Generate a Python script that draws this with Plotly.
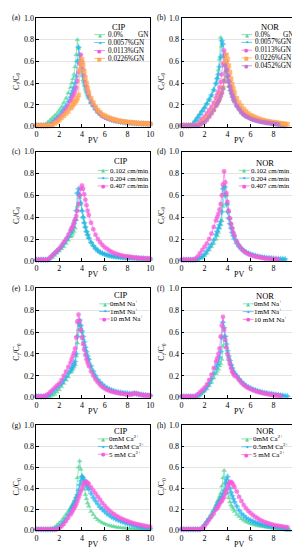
import plotly.graph_objects as go

N = None
PV = [0.0, 0.2, 0.4, 0.6, 0.8, 1.0, 1.2, 1.4, 1.6, 1.8, 2.0, 2.2, 2.4, 2.6, 2.8, 3.0,
      3.1, 3.2, 3.3, 3.4, 3.5, 3.6, 3.7, 3.8, 3.9, 4.0, 4.1, 4.2, 4.3, 4.4, 4.5, 4.6,
      4.8, 5.0, 5.2, 5.4, 5.6, 5.8, 6.0, 6.2, 6.4,
      6.6, 6.8, 7.0, 7.2, 7.4, 7.6, 7.8, 8.0, 8.2,
      8.4, 8.6, 8.8, 9.0, 9.2, 9.4, 9.6, 9.8, 10.0]

# ---------------- (a) CIP, GN ----------------
A_GN_00 = ([0.01,0.01,0.01,0.01,0.02,0.04,0.06,0.08,0.10,0.12,0.15,0.18,0.22,0.26,0.31,0.36] +
           [0.40,0.44,0.48,0.55,0.66,0.80,0.72,0.62,0.54,0.48,0.43,0.39,0.35,0.32,0.29,0.26] +
           [0.22,0.19,0.16,0.13,0.11,0.095,0.085,0.075,0.068,
            0.062,0.057,0.052,0.048,0.045,0.042,0.039,0.037,0.035,
            0.033,0.031,0.029,0.028,0.027,0.026,0.025,0.024,0.023])
A_GN_0057 = ([0.01,0.01,0.01,0.01,0.01,0.01,0.02,0.04,0.06,0.08,0.10,0.13,0.16,0.19,0.23,0.27] +
             [0.30,0.33,0.36,0.40,0.46,0.60,0.73,0.66,0.58,0.52,0.46,0.41,0.37,0.33,0.30,0.27] +
             [0.22,0.19,0.16,0.135,0.115,0.10,0.088,0.078,0.07,
              0.063,0.057,0.052,0.048,0.044,0.041,0.038,0.036,0.034,
              0.032,0.030,0.029,0.028,0.027,0.026,0.025,0.024,0.023])
A_GN_0113 = ([0.01,0.01,0.01,0.01,0.01,0.01,0.01,0.02,0.04,0.06,0.08,0.10,0.13,0.16,0.19,0.23] +
             [0.25,0.28,0.30,0.33,0.36,0.42,0.50,0.58,0.66,0.60,0.53,0.47,0.41,0.37,0.33,0.29] +
             [0.24,0.20,0.17,0.14,0.12,0.10,0.09,0.08,0.072,
              0.065,0.059,0.054,0.05,0.046,0.043,0.04,0.038,0.036,
              0.034,0.032,0.031,0.03,0.029,0.028,0.027,0.026,0.025])
A_GN_0226 = ([0.01,0.01,0.01,0.01,0.01,0.01,0.01,0.01,0.03,0.04,0.06,0.08,0.10,0.12,0.14,0.17] +
             [0.18,0.20,0.21,0.23,0.24,0.26,0.29,0.52,0.58,0.62,0.57,0.51,0.45,0.40,0.35,0.31] +
             [0.26,0.22,0.18,0.15,0.13,0.11,0.10,0.09,0.08,
              0.072,0.066,0.06,0.055,0.05,0.047,0.044,0.041,0.039,
              0.037,0.035,0.033,0.031,0.03,0.029,0.028,0.027,0.026])

# ---------------- (b) NOR, GN ----------------
B_GN_00 = ([0.01,0.01,0.01,0.01,0.01,0.03,0.06,0.09,0.12,0.15,0.18,0.21,0.24,0.28,0.33,0.39] +
           [0.45,0.52,0.62,0.82,0.74,0.64,0.56,0.50,0.45,0.41,0.37,0.34,0.31,0.28,0.25,0.23] +
           [0.19,0.16,0.13,0.11,0.095,0.085,0.075,0.066,0.06,
            0.055,0.05,0.045,0.041,0.038,0.035,0.032,0.029,0.025,
            0.02,0.01,0.0,N,N,N,N,N,N])
B_GN_0057 = ([0.01,0.01,0.01,0.01,0.01,0.02,0.05,0.08,0.11,0.14,0.17,0.21,0.25,0.29,0.34,0.40] +
             [0.44,0.48,0.55,0.64,0.79,0.76,0.66,0.58,0.51,0.46,0.41,0.37,0.33,0.30,0.27,0.24] +
             [0.20,0.17,0.14,0.12,0.10,0.09,0.08,0.07,0.063,
              0.057,0.052,0.047,0.043,0.04,0.037,0.034,0.031,0.028,
              0.025,0.02,0.015,0.01,N,N,N,N,N])
B_GN_0113 = ([0.01,0.01,0.01,0.01,0.01,0.01,0.01,0.02,0.05,0.07,0.09,0.12,0.15,0.18,0.22,0.26] +
             [0.29,0.32,0.36,0.41,0.48,0.58,0.70,0.66,0.60,0.53,0.47,0.41,0.36,0.32,0.28,0.25] +
             [0.20,0.17,0.14,0.12,0.10,0.09,0.08,0.07,0.063,
              0.057,0.052,0.047,0.043,0.04,0.037,0.034,0.031,0.028,
              0.025,0.022,0.02,0.018,N,N,N,N,N])
B_GN_0226 = ([0.01,0.01,0.01,0.01,0.01,0.01,0.01,0.01,0.02,0.04,0.06,0.08,0.10,0.13,0.16,0.20] +
             [0.22,0.24,0.27,0.29,0.32,0.36,0.42,0.60,0.66,0.62,0.56,0.50,0.44,0.39,0.35,0.31] +
             [0.26,0.22,0.19,0.16,0.14,0.12,0.105,0.095,0.085,
              0.076,0.068,0.061,0.055,0.05,0.046,0.042,0.039,0.036,
              0.033,0.03,0.027,0.024,0.022,N,N,N,N])
B_GN_0452 = ([0.01,0.01,0.01,0.01,0.01,0.01,0.01,0.01,0.02,0.03,0.04,0.06,0.09,0.12,0.15,0.19] +
             [0.21,0.23,0.25,0.28,0.31,0.35,0.42,0.56,0.52,0.47,0.42,0.37,0.33,0.29,0.26,0.23] +
             [0.19,0.16,0.13,0.11,0.095,0.083,0.073,0.065,0.058,
              0.052,0.047,0.043,0.039,0.035,0.032,0.029,0.026,0.023,
              0.02,N,N,N,N,N,N,N,N])

# ---------------- (c) CIP, flow rate ----------------
C_F_102 = ([0.01,0.01,0.01,0.01,0.01,0.01,0.02,0.03,0.05,0.07,0.09,0.11,0.13,0.16,0.19,0.22] +
           [0.23,0.25,0.27,0.30,0.38,0.50,0.62,0.58,0.52,0.46,0.40,0.35,0.31,0.27,0.24,0.21] +
           [0.17,0.14,0.11,0.09,0.075,0.065,0.057,0.05,0.044,
            0.039,0.035,0.032,0.029,0.027,0.025,0.023,0.021,0.02,
            0.019,0.018,0.017,0.016,0.015,0.014,0.013,0.012,0.011])
C_F_204 = ([0.01,0.01,0.01,0.01,0.01,0.01,0.03,0.05,0.07,0.09,0.11,0.13,0.16,0.19,0.22,0.26] +
           [0.28,0.31,0.34,0.37,0.46,0.62,0.66,0.60,0.53,0.46,0.40,0.35,0.31,0.27,0.24,0.21] +
           [0.17,0.14,0.115,0.095,0.08,0.07,0.062,0.055,0.05,
            0.046,0.042,0.039,0.036,0.034,0.032,0.03,0.029,0.028,
            0.027,0.026,0.025,0.024,0.023,0.022,0.021,0.02,0.02])
C_F_407 = ([0.01,0.01,0.01,0.01,0.01,0.01,0.03,0.05,0.07,0.09,0.11,0.14,0.17,0.20,0.24,0.28] +
           [0.30,0.32,0.35,0.38,0.41,0.46,0.52,0.60,0.66,0.69,0.66,0.61,0.56,0.51,0.46,0.42] +
           [0.35,0.29,0.24,0.20,0.17,0.145,0.125,0.11,0.095,
            0.083,0.073,0.065,0.058,0.052,0.047,0.043,0.04,0.037,
            0.034,0.031,0.029,0.027,0.025,0.023,0.022,0.021,0.02])

# ---------------- (d) NOR, flow rate ----------------
D_F_102 = ([0.01,0.01,0.01,0.01,0.01,0.01,0.01,0.01,0.02,0.03,0.05,0.07,0.10,0.13,0.16,0.20] +
           [0.23,0.26,0.30,0.33,0.37,0.50,0.62,0.68,0.60,0.52,0.45,0.39,0.34,0.30,0.26,0.23] +
           [0.18,0.15,0.12,0.10,0.085,0.072,0.062,0.054,0.047,
            0.041,0.036,0.032,0.028,0.025,0.022,0.019,0.016,0.013,
            0.01,0.008,0.006,0.005,N,N,N,N,N])
D_F_204 = ([0.01,0.01,0.01,0.01,0.01,0.01,0.01,0.02,0.03,0.04,0.06,0.09,0.12,0.15,0.19,0.24] +
           [0.27,0.30,0.33,0.36,0.45,0.66,0.68,0.60,0.52,0.45,0.39,0.34,0.30,0.26,0.23,0.20] +
           [0.16,0.13,0.11,0.09,0.078,0.068,0.06,0.053,0.047,
            0.042,0.038,0.034,0.031,0.028,0.026,0.024,0.022,0.02,
            0.019,0.018,0.017,0.016,N,N,N,N,N])
D_F_407 = ([0.01,0.01,0.01,0.01,0.01,0.01,0.02,0.04,0.07,0.10,0.13,0.16,0.20,0.25,0.31,0.37] +
           [0.40,0.43,0.47,0.52,0.60,0.70,0.82,0.72,0.62,0.54,0.46,0.39,0.34,0.30,0.26,0.23] +
           [0.18,0.14,0.11,0.09,0.075,0.063,0.054,0.047,0.041,
            0.036,0.032,0.028,0.025,0.022,0.02,0.018,0.016,0.014,
            0.012,N,N,N,N,N,N,N,N])

# ---------------- (e) CIP, Na+ ----------------
E_NA_0 = ([0.01,0.01,0.01,0.01,0.01,0.01,0.01,0.02,0.03,0.05,0.07,0.10,0.13,0.16,0.19,0.23] +
          [0.24,0.26,0.28,0.30,0.38,0.50,0.62,0.66,0.64,0.60,0.54,0.49,0.44,0.40,0.36,0.33] +
          [0.27,0.22,0.18,0.15,0.125,0.105,0.09,0.078,0.068,
           0.06,0.054,0.049,0.045,0.042,0.039,0.037,0.035,0.034,
           0.033,0.035,0.032,0.029,0.026,0.024,0.022,0.02,0.019])
E_NA_1 = ([0.01,0.01,0.01,0.01,0.01,0.02,0.03,0.05,0.07,0.09,0.11,0.13,0.16,0.19,0.22,0.25] +
          [0.27,0.29,0.31,0.33,0.40,0.56,0.68,0.71,0.66,0.61,0.56,0.51,0.46,0.42,0.38,0.35] +
          [0.29,0.24,0.20,0.165,0.14,0.12,0.10,0.088,0.077,
           0.068,0.061,0.055,0.05,0.046,0.043,0.04,0.038,0.036,
           0.035,0.038,0.035,0.031,0.028,0.025,0.023,0.021,0.02])
E_NA_10 = ([0.01,0.01,0.01,0.01,0.02,0.03,0.05,0.07,0.09,0.11,0.13,0.16,0.20,0.24,0.28,0.32] +
           [0.35,0.38,0.41,0.45,0.55,0.70,0.76,0.70,0.62,0.55,0.49,0.44,0.39,0.35,0.32,0.29] +
           [0.24,0.20,0.165,0.14,0.115,0.097,0.083,0.072,0.063,
            0.056,0.05,0.045,0.041,0.037,0.034,0.031,0.029,0.028,
            0.03,0.04,0.038,0.03,0.025,0.022,0.02,0.019,0.018])

# ---------------- (f) NOR, Na+ ----------------
F_NA_0 = ([0.01,0.01,0.01,0.01,0.01,0.01,0.01,0.01,0.02,0.04,0.06,0.08,0.11,0.14,0.18,0.22] +
          [0.24,0.26,0.29,0.31,0.35,0.47,0.56,0.52,0.46,0.41,0.37,0.33,0.30,0.27,0.24,0.22] +
          [0.20,0.17,0.145,0.125,0.11,0.095,0.085,0.075,0.067,
           0.06,0.054,0.049,0.044,0.04,0.036,0.033,0.03,0.027,
           0.024,0.021,0.018,N,N,N,N,N,N])
F_NA_1 = ([0.01,0.01,0.01,0.01,0.01,0.01,0.01,0.02,0.03,0.05,0.07,0.10,0.13,0.17,0.22,0.27] +
          [0.30,0.33,0.37,0.42,0.55,0.69,0.64,0.56,0.49,0.43,0.38,0.34,0.30,0.27,0.24,0.22] +
          [0.20,0.17,0.145,0.125,0.11,0.095,0.085,0.075,0.067,
           0.06,0.054,0.049,0.044,0.04,0.036,0.033,0.03,0.027,
           0.024,0.021,0.018,0.015,0.012,N,N,N,N])
F_NA_10 = ([0.01,0.01,0.01,0.01,0.01,0.01,0.01,0.03,0.05,0.07,0.09,0.12,0.16,0.21,0.27,0.33] +
           [0.36,0.40,0.45,0.56,0.66,0.74,0.62,0.53,0.46,0.40,0.35,0.31,0.27,0.24,0.22,0.20] +
           [0.19,0.16,0.135,0.115,0.10,0.088,0.078,0.069,0.061,
            0.054,0.048,0.043,0.038,0.034,0.03,0.027,0.024,0.021,
            0.018,0.015,N,N,N,N,N,N,N])

# ---------------- (g) CIP, Ca2+ ----------------
G_CA_0 = ([0.01,0.01,0.01,0.01,0.01,0.01,0.01,0.02,0.03,0.05,0.07,0.09,0.12,0.15,0.18,0.21] +
          [0.23,0.25,0.27,0.29,0.32,0.50,0.60,0.66,0.58,0.52,0.45,0.39,0.34,0.30,0.26,0.23] +
          [0.18,0.15,0.12,0.10,0.085,0.072,0.062,0.054,0.047,
           0.041,0.036,0.032,0.029,0.026,0.023,0.021,0.019,0.017,
           0.016,0.015,0.014,0.013,0.012,0.011,0.01,0.01,0.01])
G_CA_05 = ([0.01,0.01,0.01,0.01,0.01,0.01,0.01,0.01,0.01,0.02,0.03,0.05,0.08,0.11,0.15,0.19] +
           [0.21,0.23,0.25,0.28,0.31,0.34,0.38,0.43,0.47,0.51,0.50,0.48,0.45,0.43,0.41,0.39] +
           [0.35,0.31,0.28,0.25,0.22,0.20,0.18,0.16,0.145,
            0.13,0.118,0.107,0.097,0.088,0.08,0.072,0.065,0.058,
            0.052,0.046,0.04,0.035,0.03,0.026,0.022,0.019,0.017])
G_CA_5 = ([0.01,0.01,0.01,0.01,0.01,0.01,0.01,0.01,0.01,0.01,0.02,0.04,0.06,0.09,0.12,0.15] +
          [0.17,0.19,0.21,0.23,0.25,0.28,0.31,0.34,0.37,0.40,0.43,0.45,0.46,0.46,0.45,0.44] +
          [0.41,0.38,0.35,0.32,0.29,0.26,0.235,0.21,0.19,
           0.17,0.155,0.14,0.127,0.115,0.105,0.096,0.088,0.08,
           0.073,0.066,0.06,0.055,0.05,0.046,0.042,0.038,0.035])

# ---------------- (h) NOR, Ca2+ ----------------
H_CA_0 = ([0.01,0.01,0.01,0.01,0.01,0.01,0.01,0.01,0.01,0.03,0.06,0.09,0.12,0.16,0.20,0.24] +
          [0.27,0.29,0.32,0.35,0.42,0.50,0.57,0.46,0.40,0.35,0.31,0.27,0.24,0.22,0.20,0.18] +
          [0.15,0.13,0.11,0.095,0.082,0.072,0.064,0.057,0.051,
           0.046,0.041,0.037,0.033,0.03,0.027,0.024,0.021,0.018,
           0.015,0.012,0.009,0.006,0.003,0.0,N,N,N])
H_CA_05 = ([0.01,0.01,0.01,0.01,0.01,0.01,0.01,0.01,0.01,0.02,0.05,0.08,0.11,0.14,0.18,0.22] +
           [0.24,0.26,0.28,0.30,0.32,0.35,0.38,0.44,0.48,0.51,0.45,0.40,0.36,0.33,0.30,0.27] +
           [0.23,0.19,0.16,0.14,0.12,0.105,0.095,0.085,0.076,
            0.068,0.061,0.055,0.05,0.045,0.041,0.037,0.034,0.031,
            0.028,0.025,0.022,0.019,0.016,N,N,N,N])
H_CA_5 = ([0.01,0.01,0.01,0.01,0.01,0.01,0.01,0.01,0.01,0.02,0.04,0.07,0.10,0.13,0.16,0.20] +
          [0.21,0.23,0.25,0.27,0.28,0.30,0.32,0.35,0.38,0.41,0.44,0.46,0.46,0.45,0.43,0.41] +
          [0.37,0.32,0.28,0.24,0.21,0.185,0.165,0.145,0.13,
           0.115,0.102,0.09,0.08,0.072,0.065,0.058,0.052,0.047,
           0.043,0.039,0.036,0.033,0.03,N,N,N,N])

# ---------------- labels ----------------
PANEL_LABELS = ["(a)", "(b)", "(c)", "(d)", "(e)", "(f)", "(g)", "(h)"]
LEGEND_TITLES = ["CIP", "NOR", "CIP", "NOR", "CIP", "NOR", "CIP", "NOR"]
X_TICKS = [0, 2, 4, 6, 8, 10]
Y_TICKS = [0.0, 0.2, 0.4, 0.6, 0.8, 1.0]

GN_NAMES = [("0.0%", "GN"), ("0.0057%GN", None), ("0.0113%GN", None), ("0.0226%GN", None), ("0.0452%GN", None)]
FLOW_NAMES = [("0.102 cm/min", None), ("0.204 cm/min", None), ("0.407 cm/min", None)]
NA_NAMES = [("0mM Na<sup>+</sup>", None), ("1mM Na<sup>+</sup>", None), ("10 mM Na<sup>+</sup>", None)]
CA_NAMES = [("0mM Ca<sup>2+</sup>", None), ("0.5mM Ca<sup>2+</sup>", None), ("5 mM Ca<sup>2+</sup>", None)]

COLORS = {"g": "#55d797", "c": "#22b4f0", "m": "#f75bdb", "o": "#ffa750", "p": "#c472d3"}
SYMBOLS = {"g": "triangle-up", "c": "star-diamond", "m": "circle", "o": "square", "p": "circle"}
GLYPHS = {"g": "\u25B2", "c": "\u2726", "m": "\u25CF", "o": "\u25A0", "p": "\u25CF"}

PANELS = [
    [(A_GN_00, "g"), (A_GN_0057, "c"), (A_GN_0113, "m"), (A_GN_0226, "o")],
    [(B_GN_00, "g"), (B_GN_0057, "c"), (B_GN_0113, "m"), (B_GN_0226, "o"), (B_GN_0452, "p")],
    [(C_F_102, "g"), (C_F_204, "c"), (C_F_407, "m")],
    [(D_F_102, "g"), (D_F_204, "c"), (D_F_407, "m")],
    [(E_NA_0, "g"), (E_NA_1, "c"), (E_NA_10, "m")],
    [(F_NA_0, "g"), (F_NA_1, "c"), (F_NA_10, "m")],
    [(G_CA_0, "g"), (G_CA_05, "c"), (G_CA_5, "m")],
    [(H_CA_0, "g"), (H_CA_05, "c"), (H_CA_5, "m")],
]
NAMES = [GN_NAMES[:4], GN_NAMES, FLOW_NAMES, FLOW_NAMES, NA_NAMES, NA_NAMES, CA_NAMES, CA_NAMES]
LEG_FONT = [7.2, 7.2, 6.9, 6.9, 7.0, 7.0, 7.0, 7.0]

# ---------------- layout geometry (pixels) ----------------
W, H = 300, 550
COL_PX = [(27, 143), (175, 292.5)]
ROW_PX = [(6, 116.5), (142, 253), (281, 392), (420, 527)]
# legend: title (x, y), first entry y, step, symbol x, text x, right x for "GN"
LEG = [
    (111, 15.3, 23.0, 8.1, 91.5, 99.0, 142.5),
    (265, 15.3, 23.0, 7.9, 241.5, 249.0, 291.0),
    (113, 151.7, 161.0, 7.9, 95.0, 101.0, None),
    (260, 153.3, 161.0, 7.9, 239.0, 244.5, None),
    (113, 287.3, 296.7, 7.7, 96.5, 101.5, None),
    (260, 288.3, 296.7, 7.9, 243.0, 248.0, None),
    (113, 425.7, 434.0, 7.8, 95.0, 100.0, None),
    (260, 425.7, 434.0, 8.0, 241.5, 247.0, None),
]

FONT = "Liberation Serif, Times New Roman, serif"

def px(x):
    return x / W

def py(y):
    return 1 - y / H

fig = go.Figure()
annotations = []
shapes = []

for i, series in enumerate(PANELS):
    r, c = divmod(i, 2)
    k = i + 1
    xa = "x" if k == 1 else f"x{k}"
    ya = "y" if k == 1 else f"y{k}"
    for vals, key in series:
        ys = list(vals)[:len(PV)]
        ys += [None] * (len(PV) - len(ys))
        fig.add_trace(go.Scatter(
            x=PV, y=ys, xaxis=xa, yaxis=ya, mode="lines+markers",
            line=dict(color=COLORS[key], width=0.6),
            marker=dict(symbol=SYMBOLS[key], size=4.5, color=COLORS[key], opacity=0.75,
                        line=dict(width=0.3, color=COLORS[key])),
            showlegend=False, cliponaxis=False, connectgaps=False,
        ))
    l, rr = COL_PX[c]
    t, b = ROW_PX[r]
    axfont = dict(family=FONT, size=8, color="black")
    fig.layout[f"xaxis{k}"] = dict(
        domain=[px(l), px(rr)], range=[0, 10], anchor=ya, tickvals=X_TICKS,
        ticks="inside", ticklen=3, tickwidth=0.8, tickcolor="black",
        showline=True, linecolor="black", linewidth=0.8, mirror=True,
        showgrid=False, zeroline=False, tickfont=axfont, ticklabelstandoff=0,
    )
    fig.layout[f"yaxis{k}"] = dict(
        domain=[py(b), py(t)], range=[0, 1], anchor=xa, tickvals=Y_TICKS, tickformat=".1f",
        ticks="inside", ticklen=3, tickwidth=0.8, tickcolor="black",
        showline=True, linecolor="black", linewidth=0.8, mirror=True,
        showgrid=True, gridcolor="#e4e4e4", gridwidth=0.6, zeroline=False, tickfont=axfont,
    )
    # panel label
    annotations.append(dict(x=px(l - 26), y=py(t), xref="paper", yref="paper", text=PANEL_LABELS[i],
                            showarrow=False, xanchor="left", yanchor="middle", borderpad=0,
                            font=dict(family=FONT, size=7.5, color="black")))
    # axis titles
    annotations.append(dict(x=px((l + rr) / 2), y=py(b + 14), xref="paper", yref="paper", text="PV",
                            showarrow=False, xanchor="center", yanchor="middle", borderpad=0,
                            font=dict(family=FONT, size=8, color="black")))
    annotations.append(dict(x=px(l - 20), y=py((t + b) / 2 + 9), xref="paper", yref="paper",
                            text="C<sub>t</sub>/C<sub>0</sub>", textangle=-90,
                            showarrow=False, xanchor="center", yanchor="middle", borderpad=0,
                            font=dict(family=FONT, size=8, color="black")))
    # legend
    tx, ty, y0, dy, sx, txt_x, rx = LEG[i]
    annotations.append(dict(x=px(tx), y=py(ty), xref="paper", yref="paper", text=LEGEND_TITLES[i],
                            showarrow=False, xanchor="center", yanchor="middle", borderpad=0,
                            font=dict(family=FONT, size=8.5, color="black")))
    for j, ((vals, key), (lbl, right)) in enumerate(zip(series, NAMES[i])):
        yy = y0 + j * dy
        shapes.append(dict(type="line", xref="paper", yref="paper",
                           x0=px(sx - 5.5), x1=px(sx + 5.5), y0=py(yy), y1=py(yy),
                           line=dict(color=COLORS[key], width=0.7)))
        annotations.append(dict(x=px(sx), y=py(yy), xref="paper", yref="paper", text=GLYPHS[key],
                                showarrow=False, xanchor="center", yanchor="middle", borderpad=0,
                                font=dict(family="DejaVu Sans", size=5, color=COLORS[key])))
        annotations.append(dict(x=px(txt_x), y=py(yy), xref="paper", yref="paper", text=lbl,
                                showarrow=False, xanchor="left", yanchor="middle", borderpad=0,
                                font=dict(family=FONT, size=LEG_FONT[i], color="black")))
        if right:
            annotations.append(dict(x=px(rx), y=py(yy), xref="paper", yref="paper", text=right,
                                    showarrow=False, xanchor="right", yanchor="middle", borderpad=0,
                                    font=dict(family=FONT, size=LEG_FONT[i], color="black")))

fig.update_layout(
    width=W, height=H, margin=dict(l=0, r=0, t=0, b=0),
    paper_bgcolor="white", plot_bgcolor="white",
    showlegend=False, annotations=annotations, shapes=shapes,
)

fig.write_html("out.html", config={"displayModeBar": False})
